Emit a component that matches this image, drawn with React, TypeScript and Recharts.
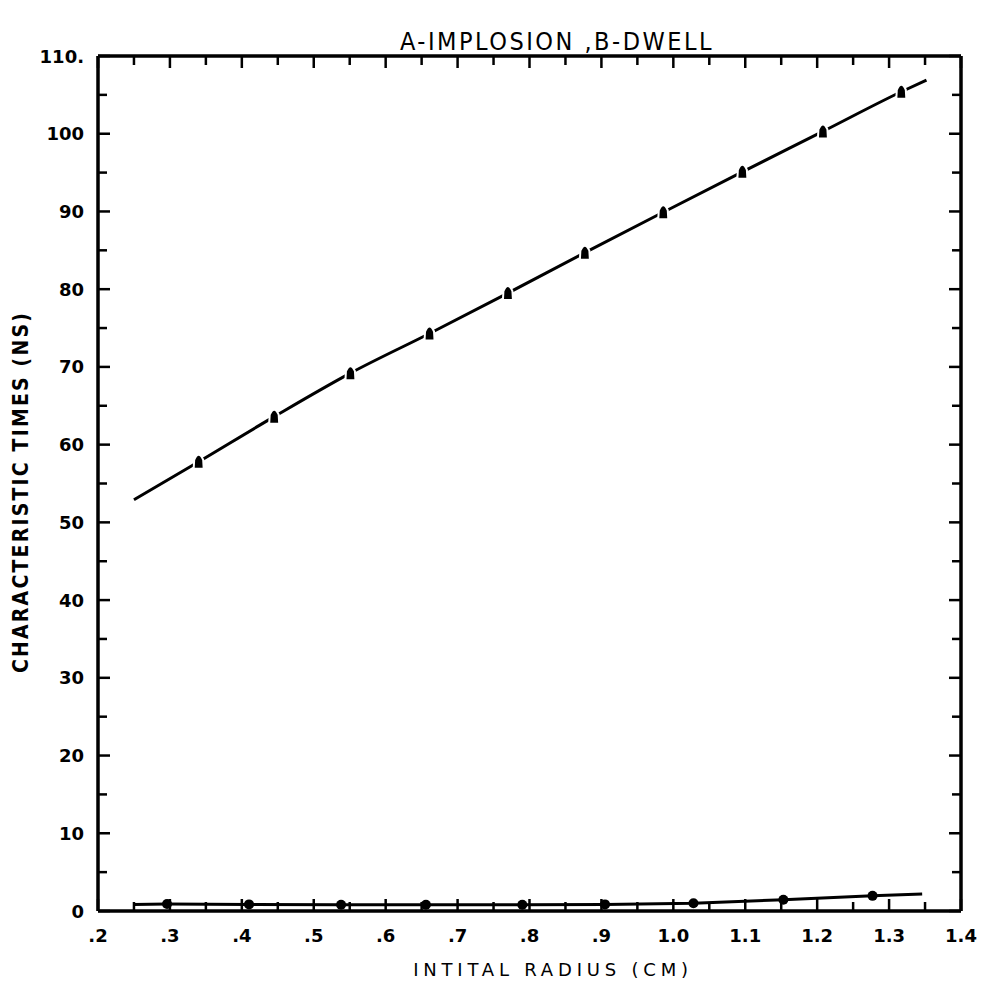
import { LineChart, Line, XAxis, YAxis } from "recharts";

// A: implosion time, B: dwell time (ns) vs initial radius (cm)
const implosionRadius = [0.25, 0.34, 0.445, 0.551, 0.661, 0.77, 0.877, 0.986, 1.096, 1.208, 1.317, 1.352];
const implosionTime = [52.9, 57.8, 63.6, 69.2, 74.3, 79.5, 84.7, 89.9, 95.1, 100.3, 105.4, 106.9];
const implosionMarked = [false, true, true, true, true, true, true, true, true, true, true, false];

const dwellRadius = [0.25, 0.296, 0.41, 0.538, 0.656, 0.79, 0.905, 1.028, 1.153, 1.277, 1.346];
const dwellTime = [0.85, 0.9, 0.85, 0.8, 0.8, 0.8, 0.85, 1.0, 1.45, 1.95, 2.2];
const dwellMarked = [false, true, true, true, true, true, true, true, true, true, false];

const xMajor = [0.2, 0.3, 0.4, 0.5, 0.6, 0.7, 0.8, 0.9, 1.0, 1.1, 1.2, 1.3, 1.4];
const xLabels = [".2", ".3", ".4", ".5", ".6", ".7", ".8", ".9", "1.0", "1.1", "1.2", "1.3", "1.4"];
const xMinor = [0.25, 0.35, 0.45, 0.55, 0.65, 0.75, 0.85, 0.95, 1.05, 1.15, 1.25, 1.35];

const yMajor = [0, 10, 20, 30, 40, 50, 60, 70, 80, 90, 100, 110];
const yLabels = ["0", "10", "20", "30", "40", "50", "60", "70", "80", "90", "100", "110."];
const yMinor = [5, 15, 25, 35, 45, 55, 65, 75, 85, 95, 105];

const xTicks = [...xMajor, ...xMinor].sort((a, b) => a - b);
const yTicks = [...yMajor, ...yMinor].sort((a, b) => a - b);

const implosionData = implosionRadius.map((r, i) => ({ r, t: implosionTime[i], mark: implosionMarked[i] }));
const dwellData = dwellRadius.map((r, i) => ({ r, t: dwellTime[i], mark: dwellMarked[i] }));

const FONT = "'DejaVu Sans', sans-serif";
const FONT_C = "'DejaVu Sans Condensed', 'DejaVu Sans', sans-serif";
const MAJOR = 12;
const MINOR = 9;

const findIdx = (list: number[], v: number) => list.findIndex((m) => Math.abs(m - v) < 1e-6);

function XTick(props: any) {
  const { x, y, payload, side } = props;
  const idx = findIdx(xMajor, payload.value);
  const len = idx >= 0 ? MAJOR : MINOR;
  const dir = side === "top" ? 1 : -1;
  return (
    <g>
      <line x1={x} x2={x} y1={y} y2={y + dir * len} stroke="#000" strokeWidth={2.5} />
      {side === "bottom" && idx >= 0 && (
        <text x={x} y={y + 24} textAnchor="middle" dominantBaseline="central"
          fontFamily={FONT} fontWeight="bold" fontSize={18} fill="#000">
          {xLabels[idx]}
        </text>
      )}
    </g>
  );
}

function YTick(props: any) {
  const { x, y, payload, side } = props;
  const idx = findIdx(yMajor, payload.value);
  const len = idx >= 0 ? MAJOR : MINOR;
  const dir = side === "right" ? -1 : 1;
  return (
    <g>
      <line x1={x} x2={x + dir * len} y1={y} y2={y} stroke="#000" strokeWidth={2.5} />
      {side === "left" && idx >= 0 && (
        <text x={x - 14} y={y} textAnchor="end" dominantBaseline="central"
          fontFamily={FONT} fontWeight="bold" fontSize={18} fill="#000">
          {yLabels[idx]}
        </text>
      )}
    </g>
  );
}

function ImplosionDot(props: any) {
  const { cx, cy, payload, index } = props;
  if (!payload.mark) return <g key={`a${index}`} />;
  return (
    <path key={`a${index}`}
      d={`M${cx - 5},${cy + 7} L${cx - 4.5},${cy - 2} Q${cx},${cy - 12} ${cx + 4.5},${cy - 2} L${cx + 5},${cy + 7} Z`}
      fill="#000" stroke="#fff" strokeWidth={2} />
  );
}

function DwellDot(props: any) {
  const { cx, cy, payload, index } = props;
  if (!payload.mark) return <g key={`b${index}`} />;
  return <circle key={`b${index}`} cx={cx} cy={cy} r={5} fill="#000" />;
}

export default function App() {
  return (
    <div style={{ position: "absolute", left: 0, top: 0 }}>
      <LineChart width={984} height={983} margin={{ top: 55, right: 22, bottom: 0, left: 0 }}>
        <text x={557} y={41} textAnchor="middle" dominantBaseline="central"
          fontFamily={FONT_C} fontSize={25} letterSpacing={2.5} fill="#000">
          A-IMPLOSION ,B-DWELL
        </text>
        <text x={21} y={492} transform="rotate(-90 21 492)" textAnchor="middle" dominantBaseline="central"
          fontFamily={FONT_C} fontWeight="bold" fontSize={21} letterSpacing={2.2} fill="#000">
          CHARACTERISTIC TIMES (NS)
        </text>
        <text x={553} y={969} textAnchor="middle" dominantBaseline="central"
          fontFamily={FONT} fontSize={18} letterSpacing={4.8} fill="#000">
          INTITAL RADIUS (CM)
        </text>

        <XAxis dataKey="r" type="number" domain={[0.2, 1.4]} ticks={xTicks} interval={0}
          height={72} tickLine={false} tickSize={0} tickMargin={0}
          axisLine={{ stroke: "#000", strokeWidth: 3.5 }}
          tick={(p: any) => <XTick {...p} side="bottom" />} />
        <XAxis xAxisId="top" dataKey="r" orientation="top" type="number" domain={[0.2, 1.4]} ticks={xTicks} interval={0}
          height={1} tickLine={false} tickSize={0} tickMargin={0}
          axisLine={{ stroke: "#000", strokeWidth: 3.5 }}
          tick={(p: any) => <XTick {...p} side="top" />} />
        <YAxis type="number" domain={[0, 110]} ticks={yTicks} interval={0}
          width={98} tickLine={false} tickSize={0} tickMargin={0}
          axisLine={{ stroke: "#000", strokeWidth: 3.5 }}
          tick={(p: any) => <YTick {...p} side="left" />} />
        <YAxis yAxisId="right" orientation="right" type="number" domain={[0, 110]} ticks={yTicks} interval={0}
          width={1} tickLine={false} tickSize={0} tickMargin={0}
          axisLine={{ stroke: "#000", strokeWidth: 3.5 }}
          tick={(p: any) => <YTick {...p} side="right" />} />

        <Line data={implosionData} xAxisId="top" dataKey="t" type="monotone" stroke="#000" strokeWidth={3}
          dot={ImplosionDot} activeDot={false} isAnimationActive={false} />
        <Line data={dwellData} yAxisId="right" dataKey="t" type="linear" stroke="#000" strokeWidth={3}
          dot={DwellDot} activeDot={false} isAnimationActive={false} />
      </LineChart>
    </div>
  );
}
